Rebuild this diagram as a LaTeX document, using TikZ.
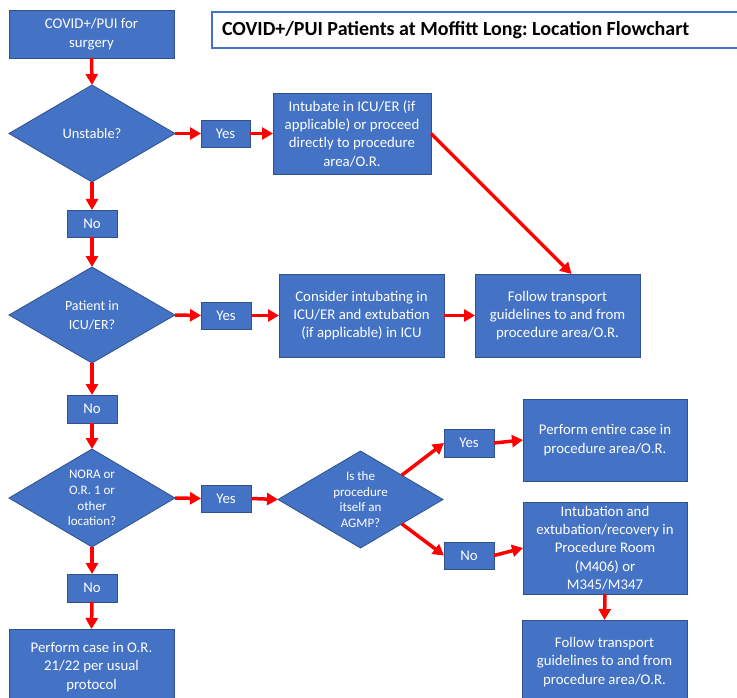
\documentclass[tikz,border=0pt]{standalone}
\usepackage{fontspec}
\setmainfont{Carlito}
\usetikzlibrary{shapes.geometric,arrows.meta,calc}
\definecolor{boxblue}{HTML}{4472C4}
\definecolor{boxedge}{HTML}{2F528F}
\definecolor{arrred}{HTML}{FF0000}
\frenchspacing
\tikzset{
  every node/.style={inner sep=0pt, outer sep=0pt},
  fbox/.style={rectangle, draw=boxedge, line width=0.8pt, fill=boxblue, text=white, align=center, font=\fontsize{14.8}{18.3}\selectfont},
  dia/.style={diamond, draw=boxedge, line width=0.8pt, fill=boxblue},
  dlab/.style={text=white, align=center, font=\fontsize{13}{15.7}\selectfont},
  conn/.style={draw=arrred, line width=3.5pt, -{Triangle[length=11pt,width=12pt]}},
  titlebox/.style={rectangle, draw=boxblue, line width=1.8pt, fill=white, font=\fontsize{20}{22}\selectfont\bfseries},
}
\begin{document}
\frenchspacing
\begin{tikzpicture}[x=1pt,y=-1pt]
\useasboundingbox (0,0) rectangle (737,698);
% title
\node[titlebox, minimum width=526, minimum height=36] (title) at (475,30) {\makebox[506pt][l]{COVID+/PUI Patients at Moffitt Long: Location Flowchart}};
% left column
\node[fbox, minimum width=165, minimum height=48] (start) at (91.5,34) {COVID+/PUI for\\surgery};
\node[dia, minimum width=166, minimum height=97, label={[dlab,font=\fontsize{14.5}{17}\selectfont]center:{Unstable?}}] (d1) at (92,133.5) {};
\node[fbox, minimum width=49, minimum height=27] (yes1) at (225.5,133.5) {Yes};
\node[fbox, minimum width=158, minimum height=81] (intub) at (352,133.5) {Intubate in ICU/ER (if\\applicable) or proceed\\directly to procedure\\area/O.R.};
\node[fbox, minimum width=50, minimum height=27] (no1) at (92,223.5) {No};
\node[dia, minimum width=166, minimum height=96, label={[dlab,font=\fontsize{14}{19}\selectfont]center:{Patient in\\ICU/ER?}}] (d2) at (92,315) {};
\node[fbox, minimum width=50, minimum height=27] (yes2) at (226,315.5) {Yes};
\node[fbox, minimum width=165, minimum height=83] (consider) at (361.5,315.5) {Consider intubating in\\ICU/ER and extubation\\(if applicable) in ICU};
\node[fbox, minimum width=165, minimum height=83] (follow1) at (557.5,315.5) {Follow transport\\guidelines to and from\\procedure area/O.R.};
\node[fbox, minimum width=50, minimum height=28] (no2) at (92,409) {No};
\node[dia, minimum width=166, minimum height=98, label={[dlab]center:{NORA or\\O.R. 1 or\\other\\location?}}] (d3) at (92,498) {};
\node[fbox, minimum width=50, minimum height=27] (yes3) at (226,498.5) {Yes};
\node[dia, minimum width=165, minimum height=97, label={[dlab]center:{Is the\\procedure\\itself an\\AGMP?}}] (d4) at (360.5,499.5) {};
\node[fbox, minimum width=50, minimum height=28] (yes4) at (469,443) {Yes};
\node[fbox, minimum width=50, minimum height=27] (no4) at (469,555.5) {No};
\node[fbox, minimum width=164, minimum height=82] (perf) at (605,440) {Perform entire case in\\procedure area/O.R.};
\node[fbox, minimum width=164, minimum height=92] (intn) at (605,548) {Intubation and\\extubation/recovery in\\Procedure Room\\(M406) or\\M345/M347};
\node[fbox, minimum width=165, minimum height=84] (follow2) at (604.5,662) {Follow transport\\guidelines to and from\\procedure area/O.R.};
\node[fbox, minimum width=50, minimum height=28] (no3) at (92,588) {No};
\node[fbox, minimum width=165, minimum height=76] (case) at (91.5,667) {Perform case in O.R.\\21/22 per usual\\protocol};
% connectors
\draw[conn] (start.south) -- (d1.north);
\draw[conn] (d1.east) -- (yes1.west);
\draw[conn] (yes1.east) -- (intub.west);
\draw[conn] (d1.south) -- (no1.north);
\draw[conn] (no1.south) -- (d2.north);
\draw[conn] (intub.east) -- ($(follow1.north)+(14,0)$);
\draw[conn] (d2.east) -- (yes2.west);
\draw[conn] (yes2.east) -- (consider.west);
\draw[conn] (consider.east) -- (follow1.west);
\draw[conn] (d2.south) -- (no2.north);
\draw[conn] (no2.south) -- (d3.north);
\draw[conn] (d3.east) -- (yes3.west);
\draw[conn] (yes3.east) -- (d4.west);
\draw[conn] (d4.north east) -- (yes4.west);
\draw[conn] (d4.south east) -- (no4.west);
\draw[conn] (yes4.east) -- (perf.west);
\draw[conn] (no4.east) -- (intn.west);
\draw[conn] (intn.south) -- (follow2.north);
\draw[conn] (d3.south) -- (no3.north);
\draw[conn] (no3.south) -- (case.north);
\end{tikzpicture}
\end{document}
